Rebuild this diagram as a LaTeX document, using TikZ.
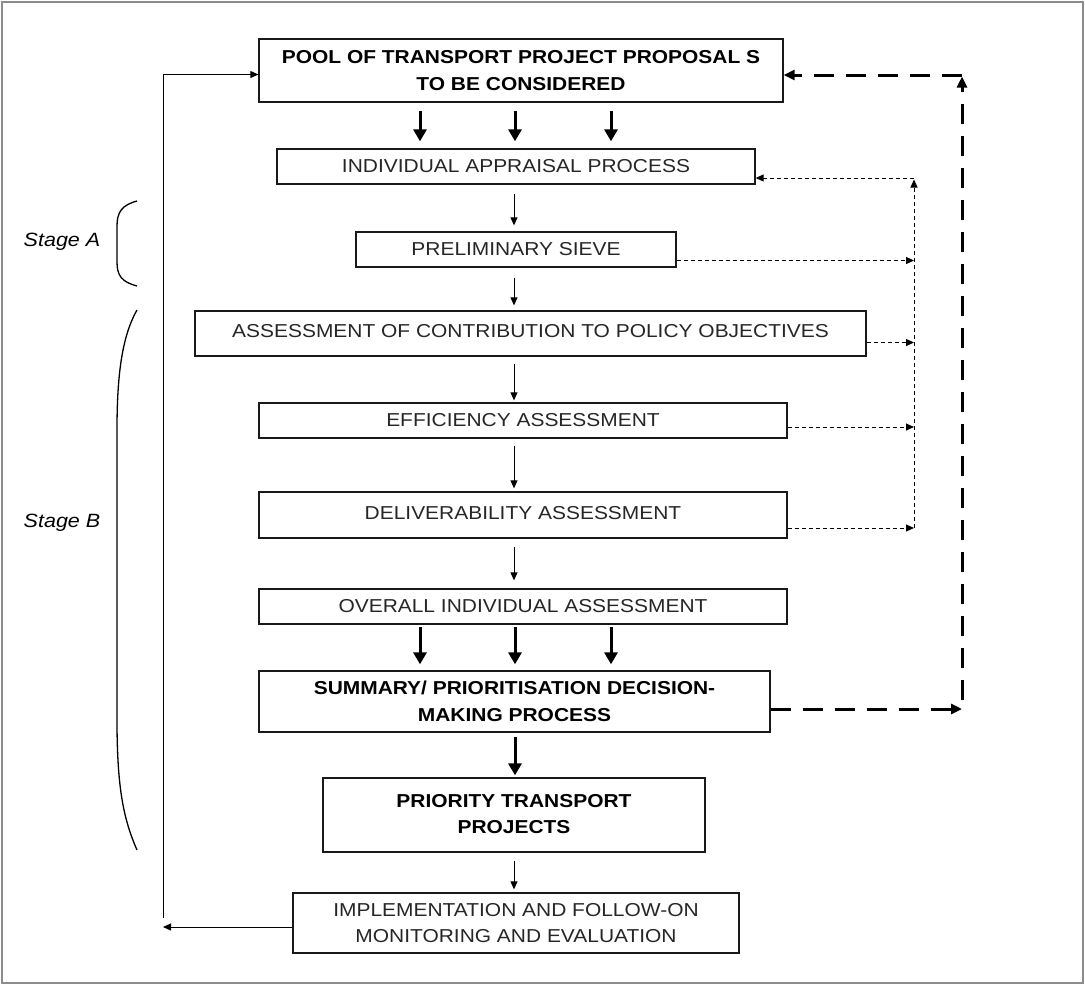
\documentclass[tikz,border=0pt]{standalone}
\usepackage{fontspec}
\setmainfont{Liberation Sans}[FakeStretch=1.12]
\usetikzlibrary{arrows.meta,calc}
\begin{document}
\begin{tikzpicture}[x=1pt,y=-1pt,
  box/.style={draw=black!90,line width=1.3pt,inner sep=0pt,align=center,text=black!85,font=\fontsize{18.7}{26.5}\selectfont},
  bbox/.style={box,font=\fontsize{18.7}{26.5}\selectfont\bfseries,text=black},
  thinarr/.style={line width=1pt,-{Triangle[length=8pt,width=7pt]}},
  bigarr/.style={line width=3pt,-{Triangle[length=12pt,width=13pt]}},
  dotarr/.style={line width=1pt,dash pattern=on 4pt off 3pt,-{Triangle[length=8pt,width=7pt]}},
  dasharr/.style={line width=3pt,dash pattern=on 20pt off 12pt,-{Triangle[length=11pt,width=10pt]}},
  stagelbl/.style={font=\fontsize{19.2}{22}\selectfont\itshape},
  bracestyle/.style={line width=1.3pt},
]
\useasboundingbox (0,0) rectangle (1085,985);
\draw[black!45,line width=2pt] (2,2) rectangle (1083,983);

% boxes
\node[bbox,minimum width=524pt,minimum height=63pt] (pool) at (521,70.5) {POOL OF TRANSPORT PROJECT PROPOSAL S\\TO BE CONSIDERED};
\node[box,minimum width=478pt,minimum height=35pt] (appr) at (516,166.5) {INDIVIDUAL APPRAISAL PROCESS};
\node[box,minimum width=320pt,minimum height=35pt] (sieve) at (516,249.5) {PRELIMINARY SIEVE};
\node[box,minimum width=671pt,minimum height=45pt] (assess) at (530.5,333.5) {\raisebox{5pt}{ASSESSMENT OF CONTRIBUTION TO POLICY OBJECTIVES}};
\node[box,minimum width=528pt,minimum height=35pt] (eff) at (523,420.5) {EFFICIENCY ASSESSMENT};
\node[box,minimum width=528pt,minimum height=46pt] (deliv) at (523,515) {\raisebox{5pt}{DELIVERABILITY ASSESSMENT}};
\node[box,minimum width=528pt,minimum height=35pt] (overall) at (523,606.5) {OVERALL INDIVIDUAL ASSESSMENT};
\node[bbox,minimum width=511pt,minimum height=61pt] (summ) at (514.5,701.5) {SUMMARY/ PRIORITISATION DECISION-\\MAKING PROCESS};
\node[bbox,minimum width=382pt,minimum height=74pt] (prio) at (514,815) {\raisebox{5pt}{\begin{tabular}{@{}c@{}}PRIORITY TRANSPORT\\PROJECTS\end{tabular}}};
\node[box,minimum width=446pt,minimum height=60pt] (impl) at (516,923) {IMPLEMENTATION AND FOLLOW-ON\\MONITORING AND EVALUATION};

% helper coordinates
\coordinate (col) at (514,0);
\coordinate (a1) at (420,0);
\coordinate (a2) at (515,0);
\coordinate (a3) at (611,0);
\coordinate (lx) at (163,0);
\coordinate (dx) at (914,0);
\coordinate (rx) at (962,0);

% thick arrows
\foreach \c in {a1,a2,a3}{
  \draw[bigarr,shorten <=8pt,shorten >=7pt] (pool.south -| \c) -- (appr.north -| \c);
  \draw[bigarr,shorten <=2pt,shorten >=6pt] (overall.south -| \c) -- (summ.north -| \c);
}
\draw[bigarr,shorten <=4pt,shorten >=2pt] (summ.south -| a2) -- (prio.north -| a2);

% thin arrows
\draw[thinarr,shorten <=9pt,shorten >=6pt] (appr.south -| col) -- (sieve.north -| col);
\draw[thinarr,shorten <=10pt,shorten >=5pt] (sieve.south -| col) -- (assess.north -| col);
\draw[thinarr,shorten <=7pt,shorten >=2pt] (assess.south -| col) -- (eff.north -| col);
\draw[thinarr,shorten <=7pt,shorten >=3pt] (eff.south -| col) -- (deliv.north -| col);
\draw[thinarr,shorten <=8pt,shorten >=8pt] (deliv.south -| col) -- (overall.north -| col);
\draw[thinarr,shorten <=8pt,shorten >=3pt] (prio.south -| col) -- (impl.north -| col);

% left feedback loop
\draw[thinarr] ([yshift=-4pt]impl.west) -- ([yshift=-4pt]impl.west -| lx);
\draw[thinarr] ([yshift=5pt]impl.west -| lx) |- ([yshift=-4pt]pool.west);

% dotted feedback
\draw[dotarr] ([yshift=-11pt]sieve.east) -- ([yshift=-11pt]sieve.east -| dx);
\draw[dotarr] ([yshift=-9pt]assess.east) -- ([yshift=-9pt]assess.east -| dx);
\draw[dotarr] ([yshift=-6.5pt]eff.east) -- ([yshift=-6.5pt]eff.east -| dx);
\draw[dotarr] ([yshift=-13pt]deliv.east) -- ([yshift=-13pt]deliv.east -| dx);
\draw[dotarr] ([yshift=-13pt]deliv.east -| dx) -- ([yshift=-13pt]appr.east -| dx);
\draw[dotarr] ([yshift=-11.5pt]appr.east -| dx) -- ([yshift=-11.5pt]appr.east);

% dashed feedback
\draw[dasharr] ([yshift=-7.5pt]summ.east) -- ([yshift=-7.5pt]summ.east -| rx);
\draw[dasharr] ([yshift=2pt]summ.east -| rx) -- ([yshift=-6pt]pool.east -| rx);
\draw[dasharr] ([yshift=-4.5pt]pool.east -| rx) -- ([yshift=-4.5pt]pool.east);

% braces and stage labels
\draw[bracestyle] (137,201) .. controls (122,205) and (117,212) .. (117,226) -- (117,262) .. controls (117,276) and (122,282) .. (137,286);
\draw[bracestyle] (137,310) .. controls (121,338) and (117,380) .. (117,430) -- (117,720) .. controls (117,790) and (124,820) .. (137,850);
\node[stagelbl] (stA) at (62,242) {Stage A};
\node[stagelbl] (stB) at (62,523) {Stage B};
\end{tikzpicture}
\end{document}
